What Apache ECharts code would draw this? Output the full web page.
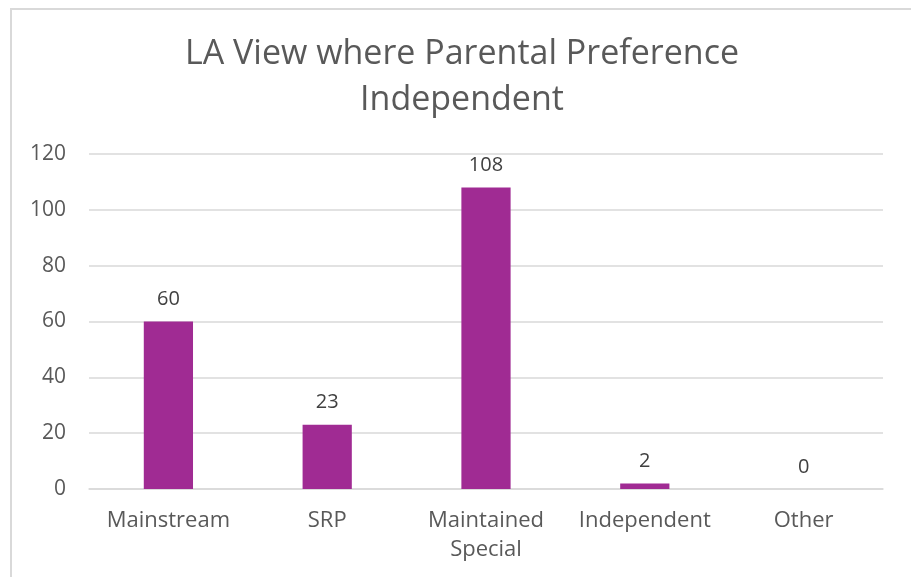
<!DOCTYPE html>
<html><head><meta charset="utf-8">
<script src="https://cdn.jsdelivr.net/npm/echarts@6/dist/echarts.min.js"></script>
<style>html,body{margin:0;padding:0;background:#fff}#c{width:911px;height:577px}</style>
</head><body><div id="c"></div>
<script>
const categories = ['Mainstream', 'SRP', 'Maintained\nSpecial', 'Independent', 'Other'];
const values = [60, 23, 108, 2, 0];
const yTicks = [0, 20, 40, 60, 80, 100, 120];
const titleText = 'LA View where Parental Preference\nIndependent';

const chart = echarts.init(document.getElementById('c'), null, {renderer: 'canvas'});
const FONT = '"Open Sans", sans-serif';
chart.setOption({
  backgroundColor: '#fff',
  animation: false,
  graphic: [{
    type: 'rect', shape: {x: 11, y: 9, width: 920, height: 600},
    style: {fill: 'none', stroke: '#d9d9d9', lineWidth: 2}, z: -1
  }, {
    type: 'text', x: 462, y: 31,
    style: {text: titleText, fontFamily: FONT, fontSize: 34, fill: '#595959', lineHeight: 46, align: 'center', verticalAlign: 'top'}
  }],
  grid: {left: 89, right: 28, top: 154, bottom: 88},
  xAxis: {
    type: 'category', data: categories,
    axisLine: {lineStyle: {color: '#d9d9d9', width: 1.5}},
    axisTick: {show: false},
    axisLabel: {fontFamily: FONT, fontSize: 22, color: '#595959', margin: 17, lineHeight: 29, interval: 0}
  },
  yAxis: {
    type: 'value', min: yTicks[0], max: yTicks[yTicks.length - 1], interval: 20,
    axisLine: {show: false}, axisTick: {show: false},
    splitLine: {lineStyle: {color: '#d9d9d9', width: 1.5}},
    axisLabel: {fontFamily: FONT, fontSize: 21, color: '#595959', margin: 23}
  },
  series: [{
    type: 'bar', data: values, barWidth: '31%',
    itemStyle: {color: '#A02B93'},
    label: {show: true, position: 'top', distance: 12, fontFamily: FONT, fontSize: 20, color: '#404040'}
  }]
});
</script></body></html>
